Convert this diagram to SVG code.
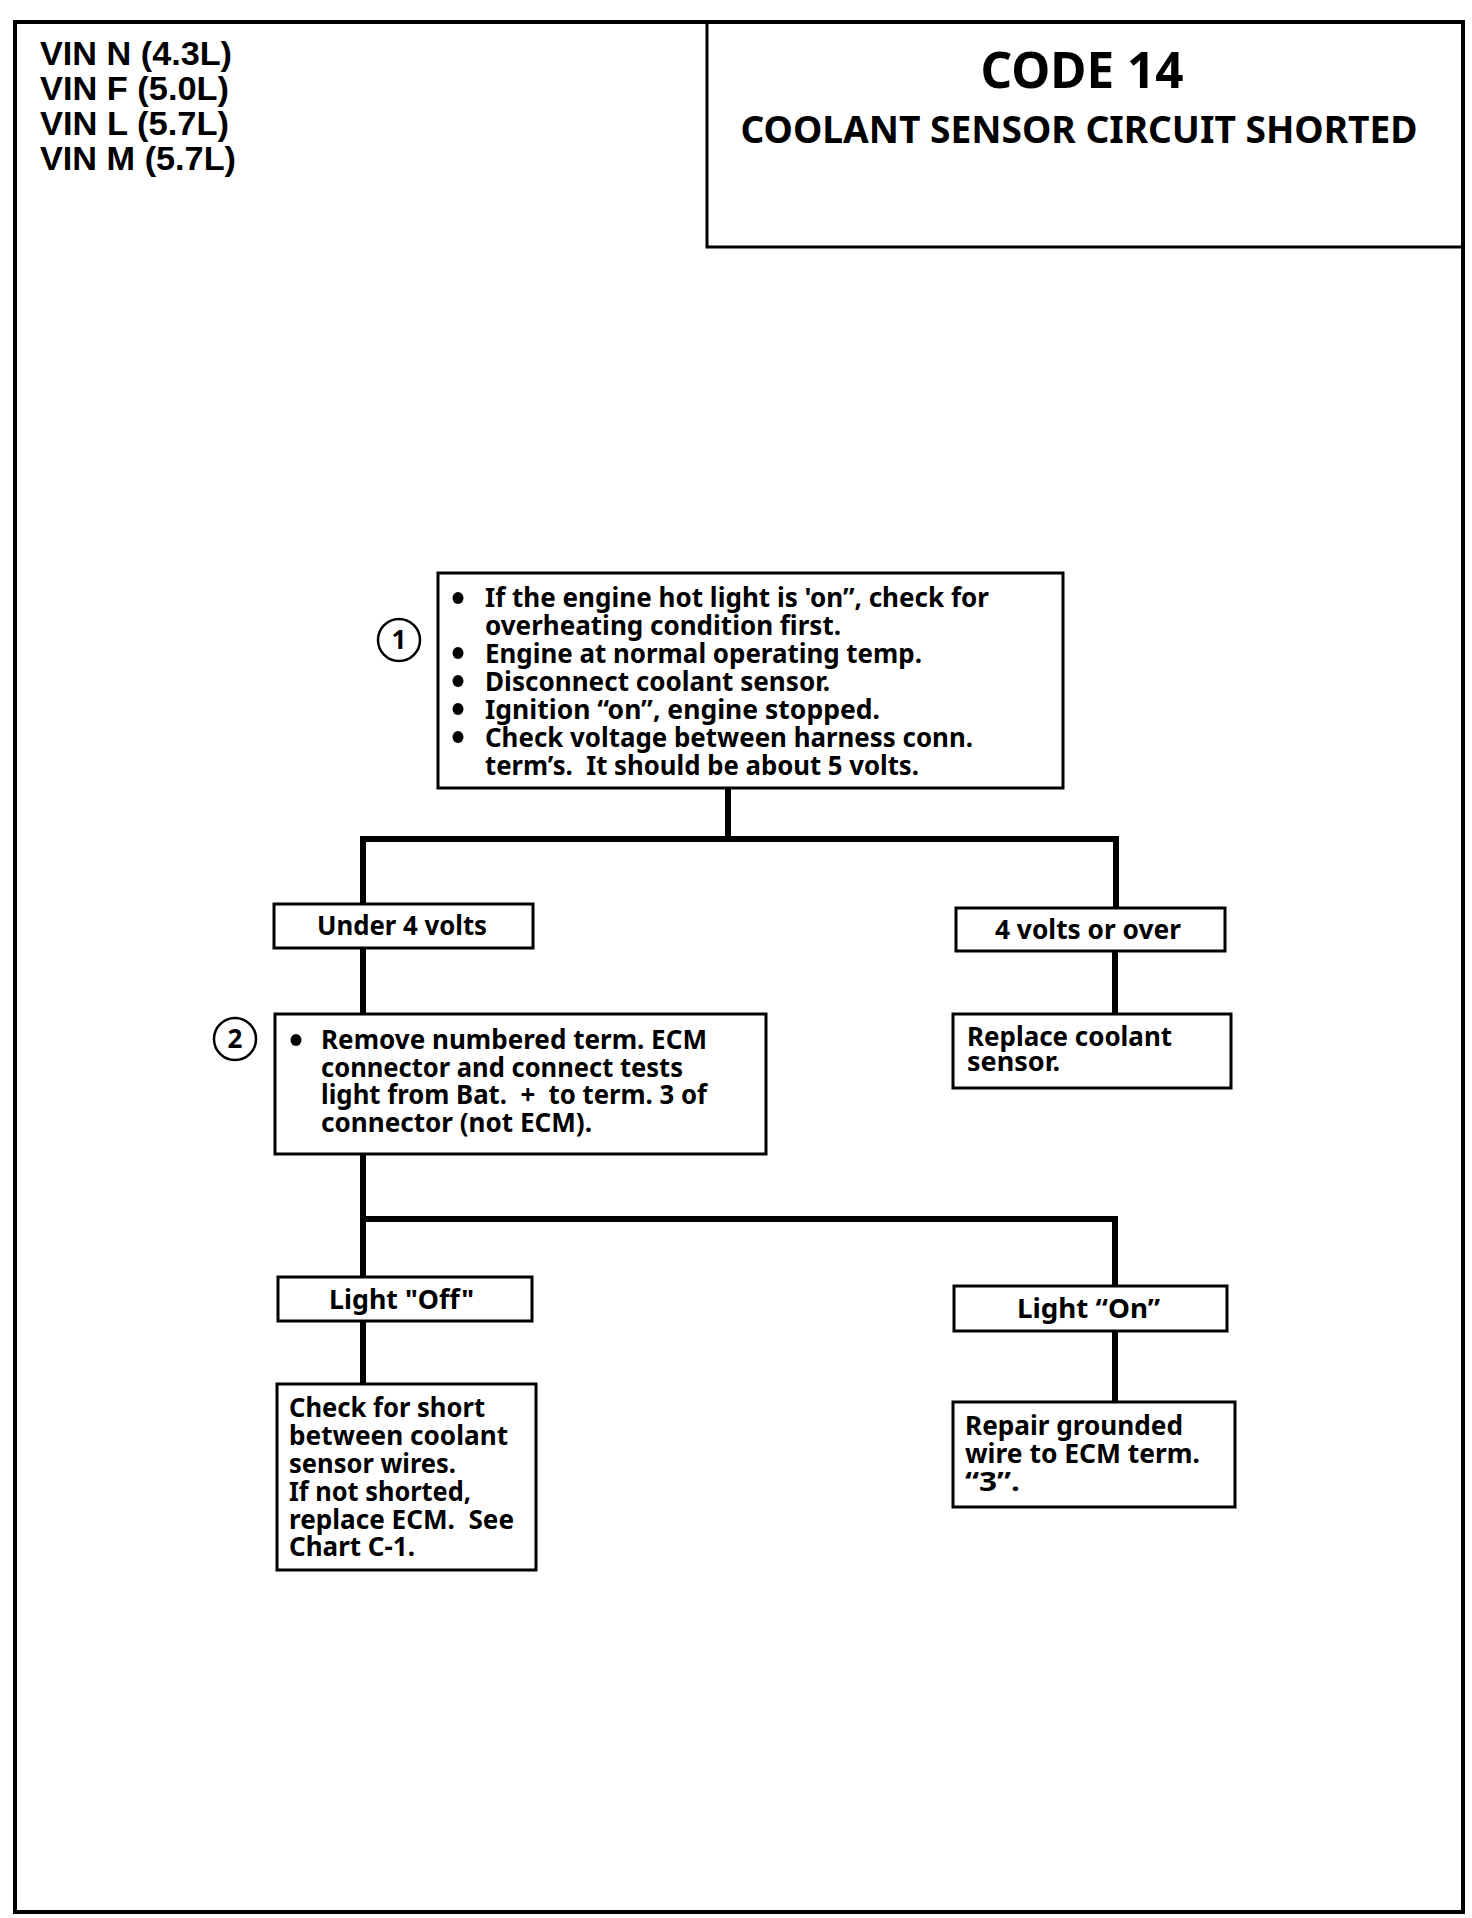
<svg xmlns="http://www.w3.org/2000/svg" width="1472" height="1918" viewBox="0 0 1472 1918">
<style>
.box{fill:#fff;stroke:#000;stroke-width:3}
.wire{fill:none;stroke:#000;stroke-width:6;stroke-linecap:square}
.t{font-family:"Noto Sans","Open Sans",sans-serif;font-weight:700;font-size:26px;fill:#000}
.vin{font-family:"Liberation Sans",Arial,sans-serif;font-weight:700;font-size:33px;fill:#000}
.c{text-anchor:middle}
</style>
<rect x="0" y="0" width="1472" height="1918" fill="#fff"/>
<rect id="frame" x="15" y="22" width="1448" height="1890" fill="none" stroke="#000" stroke-width="4"/>

<g id="vin">
<text class="vin"><tspan x="40" y="65" textLength="192" lengthAdjust="spacingAndGlyphs">VIN N (4.3L)</tspan><tspan x="40" y="100" textLength="189" lengthAdjust="spacingAndGlyphs">VIN F (5.0L)</tspan><tspan x="40" y="135" textLength="189" lengthAdjust="spacingAndGlyphs">VIN L (5.7L)</tspan><tspan x="40" y="170" textLength="196" lengthAdjust="spacingAndGlyphs">VIN M (5.7L)</tspan></text>
</g>

<g id="header">
<path d="M707 22 V247 H1463" fill="none" stroke="#000" stroke-width="3"/>
<text class="t c" x="1082" y="88" style="font-size:50px" textLength="203" lengthAdjust="spacingAndGlyphs">CODE 14</text>
<text class="t c" x="1079" y="143" style="font-size:38px" textLength="677" lengthAdjust="spacingAndGlyphs">COOLANT SENSOR CIRCUIT SHORTED</text>
</g>

<g id="connectors">
<path class="wire" d="M728 788 V839 M363 839 H1116 M363 839 V904 M1116 839 V908 M363 948 V1014 M1115 951 V1014 M363 1154 V1219 M363 1219 H1115 M363 1219 V1277 M1115 1219 V1286 M363 1321 V1384 M1115 1331 V1402"/>
</g>

<g id="step1">
<circle cx="399" cy="640" r="21" fill="#fff" stroke="#000" stroke-width="2.5"/>
<text class="t c" x="399" y="649">1</text>
</g>
<g id="node1">
<rect class="box" x="438" y="573" width="625" height="215"/>
<g fill="#000"><ellipse cx="458" cy="598" rx="5.5" ry="6"/><ellipse cx="458" cy="653" rx="5.5" ry="6"/><ellipse cx="458" cy="681" rx="5.5" ry="6"/><ellipse cx="458" cy="709" rx="5.5" ry="6"/><ellipse cx="458" cy="737" rx="5.5" ry="6"/></g>
<text class="t"><tspan x="485" y="607" textLength="504" lengthAdjust="spacingAndGlyphs">If the engine hot light is 'on”, check for</tspan><tspan x="485" y="635" textLength="356" lengthAdjust="spacingAndGlyphs">overheating condition first.</tspan><tspan x="485" y="663" textLength="437" lengthAdjust="spacingAndGlyphs">Engine at normal operating temp.</tspan><tspan x="485" y="691" textLength="345" lengthAdjust="spacingAndGlyphs">Disconnect coolant sensor.</tspan><tspan x="485" y="719" textLength="395" lengthAdjust="spacingAndGlyphs">Ignition “on”, engine stopped.</tspan><tspan x="485" y="747" textLength="488" lengthAdjust="spacingAndGlyphs">Check voltage between harness conn.</tspan><tspan x="485" y="775" textLength="434" lengthAdjust="spacingAndGlyphs">term’s.&#160; It should be about 5 volts.</tspan></text>
</g>

<g id="under4">
<rect class="box" x="274" y="904" width="259" height="44"/>
<text class="t" x="317" y="935" textLength="170" lengthAdjust="spacingAndGlyphs">Under 4 volts</text>
</g>
<g id="over4">
<rect class="box" x="956" y="908" width="269" height="43"/>
<text class="t" x="995" y="939" textLength="186" lengthAdjust="spacingAndGlyphs">4 volts or over</text>
</g>
<g id="replace">
<rect class="box" x="953" y="1014" width="278" height="74"/>
<text class="t"><tspan x="967" y="1046" textLength="205" lengthAdjust="spacingAndGlyphs">Replace coolant</tspan><tspan x="967" y="1071" textLength="93" lengthAdjust="spacingAndGlyphs">sensor.</tspan></text>
</g>

<g id="step2">
<circle cx="235" cy="1039" r="21" fill="#fff" stroke="#000" stroke-width="2.5"/>
<text class="t c" x="235" y="1048">2</text>
</g>
<g id="node2">
<rect class="box" x="275" y="1014" width="491" height="140"/>
<ellipse cx="296" cy="1040" rx="5.5" ry="6" fill="#000"/>
<text class="t"><tspan x="321" y="1049" textLength="386" lengthAdjust="spacingAndGlyphs">Remove numbered term. ECM</tspan><tspan x="321" y="1077" textLength="362" lengthAdjust="spacingAndGlyphs">connector and connect tests</tspan><tspan x="321" y="1104" textLength="386" lengthAdjust="spacingAndGlyphs">light from Bat.&#160; +&#160; to term. 3 of</tspan><tspan x="321" y="1132" textLength="271" lengthAdjust="spacingAndGlyphs">connector (not ECM).</tspan></text>
</g>

<g id="lightoff">
<rect class="box" x="278" y="1277" width="254" height="44"/>
<text class="t" x="329" y="1309" textLength="145" lengthAdjust="spacingAndGlyphs">Light "Off"</text>
</g>
<g id="lighton">
<rect class="box" x="954" y="1286" width="273" height="45"/>
<text class="t" x="1017" y="1318" textLength="143" lengthAdjust="spacingAndGlyphs">Light “On”</text>
</g>
<g id="check">
<rect class="box" x="277" y="1384" width="259" height="186"/>
<text class="t"><tspan x="289" y="1417" textLength="196" lengthAdjust="spacingAndGlyphs">Check for short</tspan><tspan x="289" y="1445" textLength="219" lengthAdjust="spacingAndGlyphs">between coolant</tspan><tspan x="289" y="1473" textLength="167" lengthAdjust="spacingAndGlyphs">sensor wires.</tspan><tspan x="289" y="1501" textLength="182" lengthAdjust="spacingAndGlyphs">If not shorted,</tspan><tspan x="289" y="1529" textLength="225" lengthAdjust="spacingAndGlyphs">replace ECM.&#160; See</tspan><tspan x="289" y="1556" textLength="126" lengthAdjust="spacingAndGlyphs">Chart C-1.</tspan></text>
</g>
<g id="repair">
<rect class="box" x="953" y="1402" width="282" height="105"/>
<text class="t"><tspan x="965" y="1435" textLength="218" lengthAdjust="spacingAndGlyphs">Repair grounded</tspan><tspan x="965" y="1463" textLength="235" lengthAdjust="spacingAndGlyphs">wire to ECM term.</tspan><tspan x="965" y="1491" textLength="55" lengthAdjust="spacingAndGlyphs">“3”.</tspan></text>
</g>
</svg>
